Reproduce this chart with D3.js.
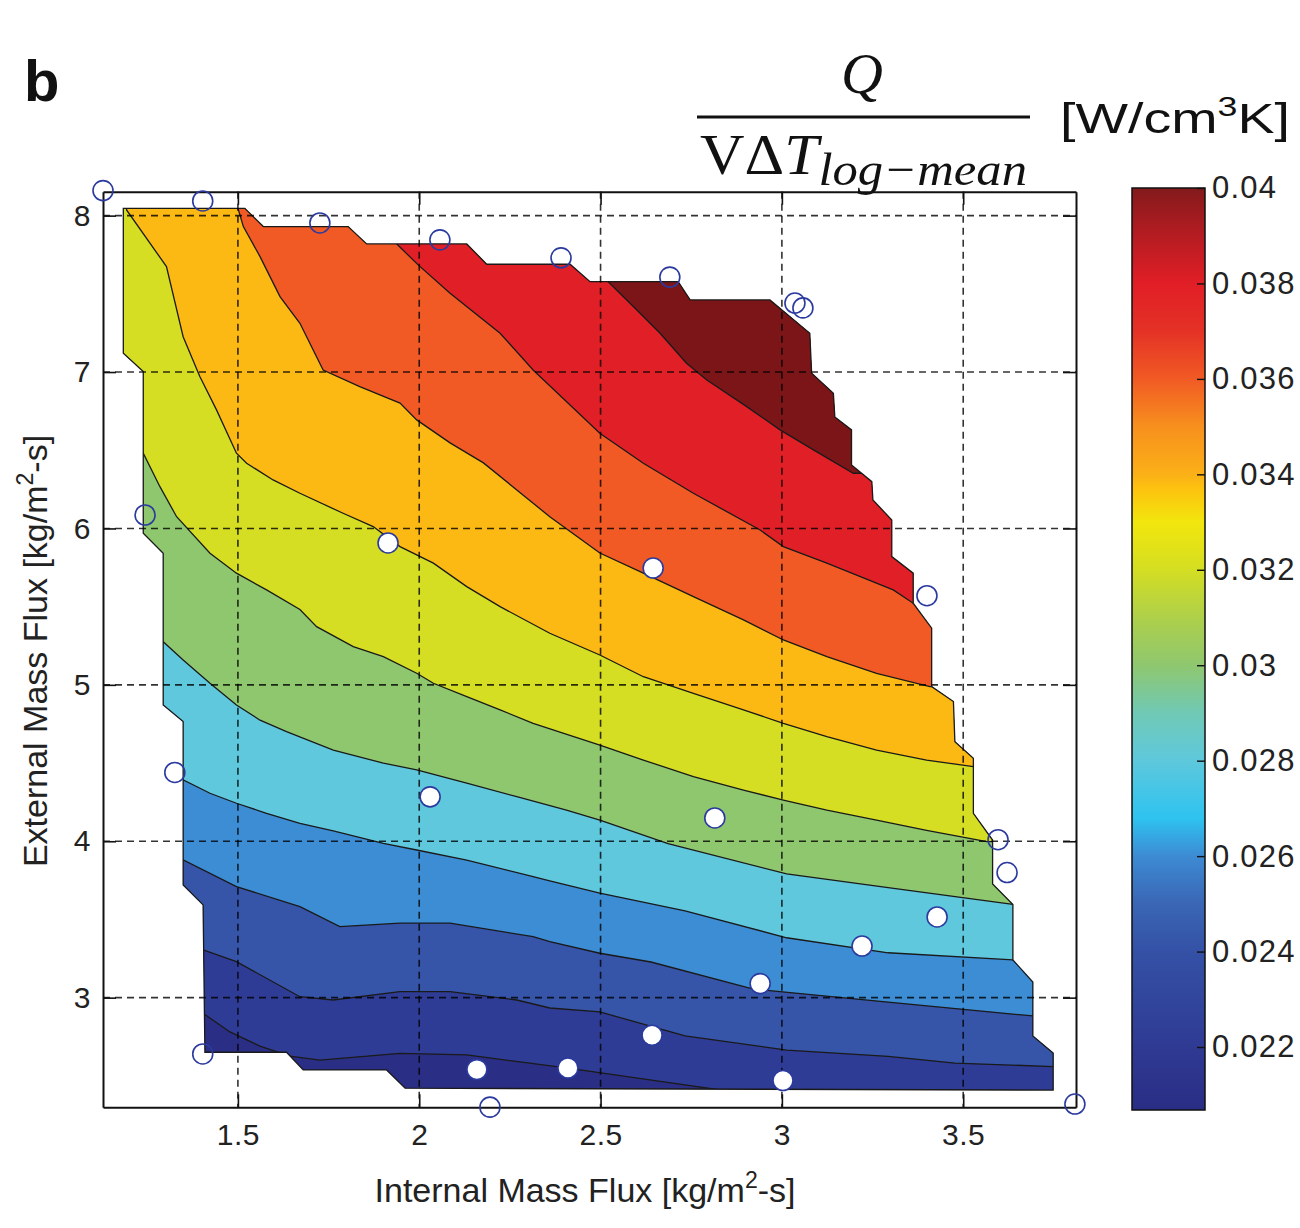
<!DOCTYPE html>
<html>
<head>
<meta charset="utf-8">
<script src="https://cdn.jsdelivr.net/npm/d3@7/dist/d3.min.js"></script>
<style>
  html, body { margin: 0; padding: 0; background: #fff; }
  svg { display: block; }
</style>
</head>
<body>
<svg id="chart" width="1300" height="1228"></svg>
<script>
// ---------------- DATA ----------------
const xTicks = [1.5, 2, 2.5, 3, 3.5];
const xTickLabels = ["1.5", "2", "2.5", "3", "3.5"];
const yTicks = [3, 4, 5, 6, 7, 8];
const yTickLabels = ["3", "4", "5", "6", "7", "8"];
const xLimits = [1.128, 3.811];
const yLimits = [2.299, 8.153];

// region where the interpolated field exists (internal flux, external flux)
const domainBoundary = [
  [1.184, 8.047], [1.519, 8.047], [1.570, 7.930], [1.804, 7.930], [1.855, 7.819],
  [2.131, 7.819], [2.186, 7.689], [2.416, 7.689], [2.471, 7.578], [2.714, 7.578],
  [2.747, 7.461], [2.967, 7.461], [3.077, 7.248], [3.082, 6.992], [3.142, 6.864],
  [3.146, 6.713], [3.192, 6.630], [3.192, 6.406], [3.248, 6.299], [3.251, 6.182],
  [3.303, 6.054], [3.303, 5.820], [3.362, 5.714], [3.362, 5.522], [3.413, 5.362],
  [3.413, 4.989], [3.473, 4.893], [3.477, 4.637], [3.528, 4.531], [3.528, 4.179],
  [3.581, 4.008], [3.581, 3.727], [3.637, 3.596], [3.637, 3.241], [3.692, 3.100],
  [3.692, 2.755], [3.748, 2.646], [3.748, 2.409], [1.961, 2.421], [1.910, 2.538],
  [1.680, 2.538], [1.634, 2.651], [1.409, 2.651], [1.404, 3.593], [1.349, 3.721],
  [1.349, 4.765], [1.294, 4.871], [1.294, 5.841], [1.239, 5.969], [1.239, 7.003],
  [1.184, 7.120]
];

// contour levels [W/cm^3K] and the colour of each filled band (lowest band first)
const contourLevels = [0.0225, 0.0243, 0.0260, 0.0278, 0.0296, 0.0314, 0.0332, 0.0350, 0.0367, 0.0385];
const bandColors = ["#2a2e85", "#2f3c95", "#3654a8", "#3d8dd4", "#5fc8dc", "#8fc76f",
                    "#d5de22", "#fdb913", "#f15a24", "#e11f26", "#7b1518"];
const contourStartEdge = ["left", "left", "left", "left", "left", "left", "top", "top", "top", "top"];

// contour lines, one per level (internal flux, external flux)
const contour1 = [[1.404, 2.900], [1.478, 2.781], [1.561, 2.690], [1.643, 2.626], [1.726, 2.601],
  [1.947, 2.644], [2.131, 2.634], [2.278, 2.589], [2.410, 2.550], [2.636, 2.474], [2.829, 2.410],
  [2.870, 2.200], [4.500, 2.200]];
const contour2 = [[1.404, 3.306], [1.496, 3.230], [1.671, 3.006], [1.763, 2.985], [1.947, 3.038],
  [2.085, 3.038], [2.269, 2.985], [2.360, 2.934], [2.498, 2.909], [2.733, 2.755], [3.013, 2.665],
  [3.293, 2.624], [3.477, 2.582], [3.748, 2.559]];
const contour3 = [[1.349, 3.881], [1.496, 3.710], [1.671, 3.582], [1.781, 3.454], [1.947, 3.476],
  [2.085, 3.476], [2.314, 3.390], [2.360, 3.359], [2.498, 3.284], [2.639, 3.228], [2.919, 3.056],
  [3.293, 2.972], [3.692, 2.883]];
const contour4 = [[1.349, 4.392], [1.423, 4.307], [1.496, 4.243], [1.579, 4.179], [1.671, 4.115],
  [1.763, 4.066], [1.901, 3.987], [1.993, 3.944], [2.131, 3.880], [2.314, 3.774], [2.360, 3.746],
  [2.498, 3.668], [2.733, 3.555], [3.013, 3.383], [3.293, 3.287], [3.637, 3.241]];
const contour5 = [[1.294, 5.276], [1.349, 5.159], [1.423, 5.010], [1.496, 4.871], [1.561, 4.774],
  [1.634, 4.701], [1.763, 4.583], [1.901, 4.499], [1.993, 4.456], [2.131, 4.371], [2.269, 4.285],
  [2.406, 4.199], [2.498, 4.135], [2.686, 3.985], [3.013, 3.791], [3.293, 3.704], [3.637, 3.596]];
const contour6 = [[1.239, 6.481], [1.285, 6.267], [1.331, 6.075], [1.423, 5.841], [1.496, 5.714],
  [1.579, 5.607], [1.671, 5.482], [1.717, 5.372], [1.818, 5.244], [1.901, 5.180], [1.993, 5.074],
  [2.039, 5.010], [2.131, 4.925], [2.223, 4.840], [2.314, 4.754], [2.498, 4.615], [2.618, 4.519],
  [2.756, 4.413], [2.894, 4.327], [3.004, 4.263], [3.124, 4.199], [3.261, 4.135], [3.399, 4.070],
  [3.565, 3.997]];
const contour7 = [[1.193, 8.036], [1.290, 7.717], [1.303, 7.674], [1.349, 7.226], [1.395, 6.971],
  [1.441, 6.758], [1.496, 6.481], [1.524, 6.417], [1.597, 6.310], [1.671, 6.225], [1.790, 6.097],
  [1.873, 6.012], [1.947, 5.884], [2.039, 5.778], [2.131, 5.628], [2.223, 5.500], [2.360, 5.330],
  [2.498, 5.191], [2.618, 5.052], [2.756, 4.946], [2.894, 4.840], [3.004, 4.754], [3.124, 4.669],
  [3.261, 4.583], [3.399, 4.519], [3.528, 4.477]];
const contour8 = [[1.500, 8.047], [1.515, 7.930], [1.561, 7.738], [1.616, 7.482], [1.671, 7.312],
  [1.735, 7.013], [1.836, 6.907], [1.947, 6.801], [1.993, 6.694], [2.085, 6.547], [2.177, 6.419],
  [2.269, 6.246], [2.360, 6.075], [2.498, 5.843], [2.618, 5.714], [2.756, 5.564], [2.894, 5.415],
  [3.004, 5.287], [3.124, 5.180], [3.261, 5.074], [3.408, 4.989]];
const contour9 = [[1.938, 7.819], [1.997, 7.685], [2.085, 7.504], [2.223, 7.248], [2.314, 7.013],
  [2.498, 6.609], [2.618, 6.417], [2.756, 6.225], [2.940, 5.990], [3.004, 5.884], [3.124, 5.778],
  [3.307, 5.607], [3.362, 5.522]];
const contour10 = [[2.521, 7.578], [2.600, 7.397], [2.664, 7.248], [2.737, 7.056], [2.793, 6.949],
  [2.903, 6.779], [2.995, 6.630], [3.087, 6.502], [3.197, 6.353]];
const contourLines = [contour1, contour2, contour3, contour4, contour5,
                      contour6, contour7, contour8, contour9, contour10];

// measured operating points (open: hull points, filled: interior points)
const openMarkers = [[1.128, 8.160], [1.403, 8.094], [1.726, 7.953], [2.057, 7.845], [2.391, 7.730],
  [2.691, 7.607], [3.036, 7.441], [3.058, 7.410], [3.400, 5.570], [3.596, 4.010], [3.621, 3.800],
  [3.808, 2.320], [2.195, 2.300], [1.403, 2.640], [1.326, 4.440], [1.244, 6.086]];
const filledMarkers = [[1.914, 5.907], [2.645, 5.747], [2.030, 4.284], [2.815, 4.149], [3.428, 3.516],
  [3.221, 3.330], [2.940, 3.090], [2.642, 2.760], [2.410, 2.550], [2.159, 2.540], [3.003, 2.470]];

// colour bar
const colorbarLimits = [0.02068, 0.04];
const colorbarTicks = [0.022, 0.024, 0.026, 0.028, 0.03, 0.032, 0.034, 0.036, 0.038, 0.04];
const colorbarTickLabels = ["0.022", "0.024", "0.026", "0.028", "0.03", "0.032", "0.034", "0.036", "0.038", "0.04"];
const colorbarStopValues = [0.02068, 0.022, 0.024, 0.025, 0.026, 0.0268, 0.028, 0.029, 0.030, 0.031,
  0.032, 0.033, 0.0337, 0.034, 0.035, 0.036, 0.037, 0.038, 0.039, 0.040];
const colorbarStopColors = ["#2a2d84", "#2f3a93", "#3451a6", "#3a66b5", "#3d8bd3", "#2ec3f0", "#5ec8dc",
  "#70c9b5", "#8fc76f", "#aed04a", "#d4de22", "#f2e60d", "#fdc20f", "#fbb017", "#f7901e", "#f15a24",
  "#e43226", "#e11e26", "#b51c22", "#831a1c"];

// ---------------- DRAW ----------------
const SANS = "'Liberation Sans', Arial, Helvetica, sans-serif";
const SERIF = "'Liberation Serif', 'DejaVu Serif', serif";
const svg = d3.select("#chart").style("font-family", SANS);
const plot = { left: 103, right: 1076, top: 191.7, bottom: 1107.3 };
const x = d3.scaleLinear().domain(xLimits).range([plot.left, plot.right]);
const y = d3.scaleLinear().domain(yLimits).range([plot.bottom, plot.top]);

const defs = svg.append("defs");
const boundaryPts = domainBoundary.map(p => [x(p[0]), y(p[1])].join(",")).join(" ");
defs.append("clipPath").attr("id", "dom").append("polygon").attr("points", boundaryPts);

const field = svg.append("g");
// lowest band fills the whole region
field.append("polygon").attr("points", boundaryPts).attr("fill", bandColors[0]);

const FAR_L = -200, FAR_R = 1500, FAR_T = -200;
function extended(line, edge) {
  const pts = line.map(p => [x(p[0]), y(p[1])]);
  const f = pts[0], l = pts[pts.length - 1];
  const start = edge === "left" ? [FAR_L, f[1]] : [f[0], FAR_T];
  return [start, ...pts, [FAR_R, l[1]]];
}
const clipped = field.append("g").attr("clip-path", "url(#dom)");
contourLines.forEach((line, i) => {
  const ext = extended(line, contourStartEdge[i]);
  const poly = [...ext, [FAR_R, FAR_T], [FAR_L, FAR_T]];
  clipped.append("polygon")
    .attr("points", poly.map(p => p.join(",")).join(" "))
    .attr("fill", bandColors[i + 1]);
});
const lineGen = d3.line();
contourLines.forEach((line, i) => {
  clipped.append("path")
    .attr("d", lineGen(extended(line, contourStartEdge[i])))
    .attr("fill", "none")
    .attr("stroke", "#1a1a1a")
    .attr("stroke-width", 1.3);
});
field.append("polygon").attr("points", boundaryPts)
  .attr("fill", "none").attr("stroke", "#1a1a1a").attr("stroke-width", 1.3);

// grid (drawn above the fill, as in the original)
const grid = svg.append("g").attr("stroke", "#000").attr("stroke-opacity", 0.8)
  .attr("stroke-width", 1.6).attr("stroke-dasharray", "7,5");
xTicks.forEach(v => grid.append("line").attr("x1", x(v)).attr("x2", x(v))
  .attr("y1", plot.top).attr("y2", plot.bottom));
yTicks.forEach(v => grid.append("line").attr("y1", y(v)).attr("y2", y(v))
  .attr("x1", plot.left).attr("x2", plot.right));

// axes
const fmtX = d => xTickLabels[xTicks.indexOf(d)];
const fmtY = d => yTickLabels[yTicks.indexOf(d)];
const axB = svg.append("g").attr("transform", `translate(0,${plot.bottom})`)
  .call(d3.axisBottom(x).tickValues(xTicks).tickFormat(fmtX).tickSizeInner(-13).tickSizeOuter(0).tickPadding(10));
const axL = svg.append("g").attr("transform", `translate(${plot.left},0)`)
  .call(d3.axisLeft(y).tickValues(yTicks).tickFormat(fmtY).tickSizeInner(-13).tickSizeOuter(0).tickPadding(12));
const axT = svg.append("g").attr("transform", `translate(0,${plot.top})`)
  .call(d3.axisTop(x).tickValues(xTicks).tickFormat("").tickSizeInner(-13).tickSizeOuter(0));
const axR = svg.append("g").attr("transform", `translate(${plot.right},0)`)
  .call(d3.axisRight(y).tickValues(yTicks).tickFormat("").tickSizeInner(-13).tickSizeOuter(0));
[axB, axL, axT, axR].forEach(a => {
  a.attr("font-family", null).attr("font-size", null);
  a.select(".domain").attr("stroke", "#111").attr("stroke-width", 2);
  a.selectAll(".tick line").attr("stroke", "#111").attr("stroke-width", 1.6);
  a.selectAll("text").style("font-family", SANS).style("font-size", "30px")
    .attr("fill", "#222").style("letter-spacing", "0.5px");
});
axB.selectAll("text").attr("dy", null).attr("y", 38);
axL.selectAll("text").attr("dy", "0.32em");

// markers
const mk = svg.append("g").attr("stroke", "#2b3a9e").attr("stroke-width", 1.6);
openMarkers.forEach(p => mk.append("circle").attr("cx", x(p[0])).attr("cy", y(p[1]))
  .attr("r", 10).attr("fill", "none"));
filledMarkers.forEach(p => mk.append("circle").attr("cx", x(p[0])).attr("cy", y(p[1]))
  .attr("r", 10).attr("fill", "#fff"));

// axis titles
function axisTitle(sel, label) {
  sel.style("font-family", SANS).style("font-size", "34px").attr("fill", "#222")
    .attr("text-anchor", "middle");
  sel.append("tspan").text(label + " [kg/m");
  sel.append("tspan").text("2").style("font-size", "23px").attr("dy", -14);
  sel.append("tspan").text("-s]").attr("dy", 14);
}
axisTitle(svg.append("text").attr("x", 585).attr("y", 1202), "Internal Mass Flux");
axisTitle(svg.append("text").attr("transform", "translate(47,651) rotate(-90)"), "External Mass Flux");

// colour bar
const cb = { left: 1132, right: 1205, top: 188, bottom: 1110 };
const cy = d3.scaleLinear().domain(colorbarLimits).range([cb.bottom, cb.top]);
const grad = defs.append("linearGradient").attr("id", "cbg")
  .attr("x1", 0).attr("y1", 1).attr("x2", 0).attr("y2", 0);
colorbarStopValues.forEach((v, i) => grad.append("stop")
  .attr("offset", (v - colorbarLimits[0]) / (colorbarLimits[1] - colorbarLimits[0]))
  .attr("stop-color", colorbarStopColors[i]));
svg.append("rect").attr("x", cb.left).attr("y", cb.top).attr("width", cb.right - cb.left)
  .attr("height", cb.bottom - cb.top).attr("fill", "url(#cbg)")
  .attr("stroke", "#111").attr("stroke-width", 1.5);
const axC = svg.append("g").attr("transform", `translate(${cb.right},0)`)
  .call(d3.axisRight(cy).tickValues(colorbarTicks)
    .tickFormat(d => colorbarTickLabels[colorbarTicks.indexOf(d)])
    .tickSizeInner(-8).tickSizeOuter(0).tickPadding(7));
axC.attr("font-family", null).attr("font-size", null);
axC.select(".domain").remove();
axC.selectAll(".tick line").attr("stroke", "#111").attr("stroke-width", 1.4);
axC.selectAll("text").style("font-family", SANS).style("font-size", "31px")
  .attr("fill", "#222").style("letter-spacing", "1.2px");

// panel letter and colour-bar title
svg.append("text").attr("x", 24).attr("y", 101).style("font-size", "58px").style("font-weight", "bold")
  .attr("fill", "#111").text("b");
svg.append("text").attr("x", 862).attr("y", 93).attr("text-anchor", "middle")
  .style("font-family", SERIF).style("font-style", "italic").style("font-size", "58px")
  .attr("fill", "#111").text("Q");
svg.append("line").attr("x1", 697).attr("x2", 1030).attr("y1", 117).attr("y2", 117)
  .attr("stroke", "#111").attr("stroke-width", 3);
const den = svg.append("text").attr("x", 700).attr("y", 174).style("font-family", SERIF)
  .style("font-size", "56px").attr("fill", "#111")
  .attr("textLength", 327).attr("lengthAdjust", "spacingAndGlyphs");
den.append("tspan").text("VΔ");
den.append("tspan").text("T").style("font-style", "italic");
den.append("tspan").text("log−mean").style("font-style", "italic").style("font-size", "46px").attr("dy", 11);
const unit = svg.append("text").attr("x", 1060).attr("y", 133).style("font-size", "42px").attr("fill", "#111")
  .attr("textLength", 230).attr("lengthAdjust", "spacingAndGlyphs");
unit.append("tspan").text("[W/cm");
unit.append("tspan").text("3").style("font-size", "27px").attr("dy", -17);
unit.append("tspan").text("K]").attr("dy", 17);
</script>
</body>
</html>
